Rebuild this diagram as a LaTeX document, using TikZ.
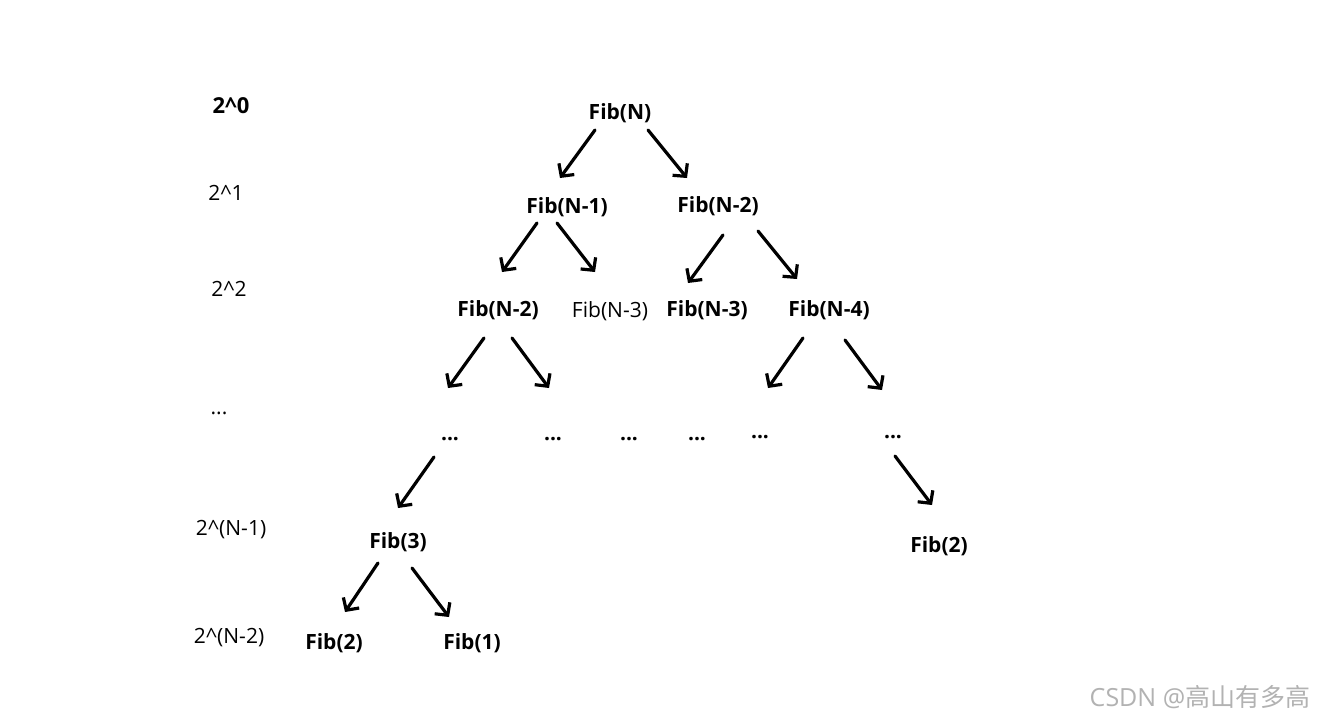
\documentclass[tikz,border=0pt]{standalone}
\usepackage{fontspec}
\setmainfont{Open Sans}
\newfontfamily\cjkfont{Noto Sans CJK SC}
\usetikzlibrary{arrows.meta}
\tikzset{
  bfib/.style={font=\fontsize{21}{25}\selectfont\bfseries, inner sep=0pt},
  rfib/.style={font=\fontsize{21}{25}\selectfont, inner sep=0pt},
  lvl/.style={font=\fontsize{21}{25}\selectfont, inner sep=0pt},
  blvl/.style={font=\fontsize{22}{26}\selectfont\bfseries, inner sep=0pt},
  dots/.style={font=\fontsize{21}{25}\selectfont\bfseries, inner sep=0pt, anchor=base},
  arr/.style={line width=3.2pt, line cap=round, -{Straight Barb[length=9pt,width=19pt,line width=3.2pt]}},
  wm/.style={font=\fontsize{25}{30}\selectfont, text=black!30, inner sep=0pt}
}
\begin{document}
\begin{tikzpicture}[x=1pt,y=-1pt]
\fill[white] (0,0) rectangle (1317,720);
\useasboundingbox (0,0) rectangle (1317,720);
% level labels
\node[blvl] (l0) at (231,106) {2\textasciicircum0};
\node[lvl] (l1) at (226,193) {2\textasciicircum1};
\node[lvl] (l2) at (229,289) {2\textasciicircum2};
\node[lvl,anchor=base] (l3) at (219,414) {...};
\node[lvl] (l4) at (231,530) {2\textasciicircum(N-1)};
\node[lvl] (l5) at (229,638) {2\textasciicircum(N-2)};
% tree nodes
\node[bfib] (fn) at (620,113) {Fib(N)};
\node[bfib] (fn1) at (567,207) {Fib(N-1)};
\node[bfib] (fn2) at (718,206) {Fib(N-2)};
\node[bfib] (fn2b) at (498,310) {Fib(N-2)};
\node[rfib] (fn3a) at (610,311) {Fib(N-3)};
\node[bfib] (fn3b) at (707,310) {Fib(N-3)};
\node[bfib] (fn4) at (829,310) {Fib(N-4)};
\node[dots] (d1) at (450,440) {...};
\node[dots] (d2) at (553,440) {...};
\node[dots] (d3) at (629,440) {...};
\node[dots] (d4) at (697,440) {...};
\node[dots] (d5) at (760,438) {...};
\node[dots] (d6) at (893,438) {...};
\node[bfib] (f3) at (398,542) {Fib(3)};
\node[bfib] (f2r) at (939,546) {Fib(2)};
\node[bfib] (f2) at (334,643) {Fib(2)};
\node[bfib] (f1) at (472,643) {Fib(1)};
% arrow end coordinates
\coordinate (a1s) at (595,130); \coordinate (a1e) at (560,178);
\coordinate (a2s) at (648,130); \coordinate (a2e) at (687,178);
\coordinate (a3s) at (537,223); \coordinate (a3e) at (502,272);
\coordinate (a4s) at (557,223); \coordinate (a4e) at (595,272);
\coordinate (a5s) at (723,235); \coordinate (a5e) at (688,283);
\coordinate (a6s) at (758,231); \coordinate (a6e) at (797,279);
\coordinate (a7s) at (484,338); \coordinate (a7e) at (448,388);
\coordinate (a8s) at (512,338); \coordinate (a8e) at (549,388);
\coordinate (a9s) at (803,338); \coordinate (a9e) at (768,388);
\coordinate (a10s) at (845,340); \coordinate (a10e) at (882,390);
\coordinate (a11s) at (434,457); \coordinate (a11e) at (398,508);
\coordinate (a12s) at (895,456); \coordinate (a12e) at (932,505);
\coordinate (a13s) at (378,563); \coordinate (a13e) at (345,612);
\coordinate (a14s) at (412,568); \coordinate (a14e) at (449,617);
\foreach \i in {1,...,14} {\draw[arr] (a\i s) -- (a\i e);}
% watermark
\node[wm] (wmk) at (1200,697) {CSDN @{\cjkfont 高山有多高}};
\end{tikzpicture}
\end{document}
